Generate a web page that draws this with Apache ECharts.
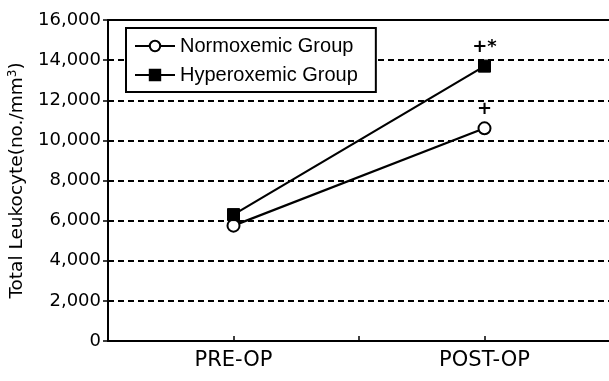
<!DOCTYPE html>
<html>
<head>
<meta charset="utf-8">
<script src="https://cdn.jsdelivr.net/npm/echarts@6/dist/echarts.min.js"></script>
<style>
html,body{margin:0;padding:0;background:#fff;}
#chart{width:609px;height:381px;}
</style>
</head>
<body>
<div id="chart"></div>
<script>
// ---- Data ----
var categories = ['PRE-OP', 'POST-OP'];
var normoxemic = [5750, 10600];
var hyperoxemic = [6300, 13700];
var normoxemicMarks = ['', '+'];
var hyperoxemicMarks = ['', '+*'];
var yTicks = [0, 2000, 4000, 6000, 8000, 10000, 12000, 14000, 16000];
var seriesNames = ['Normoxemic Group', 'Hyperoxemic Group'];

// axis slots: blank slot, category, blank slot, category, blank slot
var axisSlots = ['', categories[0], ' ', categories[1], '  '];

var FONT = 'DejaVu Sans';
var LFONT = 'Liberation Sans';

function buildData(vals, marks) {
  return vals.map(function (v, i) {
    return {
      value: [categories[i], v],
      label: { show: marks[i] !== '', formatter: marks[i] }
    };
  });
}

var chart = echarts.init(document.getElementById('chart'), null, { renderer: 'canvas' });
chart.setOption({
  animation: false,
  backgroundColor: '#fff',
  grid: { left: 108, right: -1, top: 20, bottom: 40, containLabel: false, outerBoundsMode: 'none' },
  legend: {
    orient: 'vertical',
    left: 126,
    top: 28,
    padding: [8, 18, 7, 8],
    itemGap: 9,
    itemWidth: 40,
    itemHeight: 13,
    itemTextGap: 8,
    borderColor: '#000',
    borderWidth: 2,
    backgroundColor: '#fff',
    textStyle: { fontFamily: LFONT, fontSize: 20, color: '#000' },
    data: seriesNames
  },
  xAxis: [{
    type: 'category',
    data: axisSlots,
    boundaryGap: false,
    axisLine: { lineStyle: { color: '#000', width: 2 } },
    axisTick: { show: true, inside: true, length: 5, lineStyle: { color: '#000', width: 1.5 } },
    axisLabel: { fontFamily: FONT, fontSize: 21, color: '#000', margin: 9, interval: 0 },
    splitLine: { show: false }
  }, {
    type: 'category',
    data: axisSlots,
    position: 'top',
    boundaryGap: false,
    axisLine: { show: true, onZero: false, lineStyle: { color: '#000', width: 2 } },
    axisTick: { show: false },
    axisLabel: { show: false },
    splitLine: { show: false }
  }],
  yAxis: {
    type: 'value',
    min: yTicks[0],
    max: yTicks[yTicks.length - 1],
    interval: yTicks[1] - yTicks[0],
    name: '{a|Total Leukocyte(no./mm}{s|3}{a|)}',
    nameLocation: 'middle',
    nameGap: 74,
    nameTextStyle: {
      rich: {
        a: { fontFamily: FONT, fontSize: 18.5, color: '#000', lineHeight: 21 },
        s: { fontFamily: FONT, fontSize: 12, color: '#000', verticalAlign: 'top', lineHeight: 12 }
      }
    },
    axisLine: { show: true, lineStyle: { color: '#000', width: 2 } },
    axisTick: { show: true, length: 5, lineStyle: { color: '#000', width: 1.5 } },
    axisLabel: {
      fontFamily: FONT, fontSize: 18, color: '#000', margin: 7,
      formatter: function (v) { return v.toLocaleString('en-US'); }
    },
    splitLine: { show: true, lineStyle: { color: '#000', width: 1.8, type: [6, 4] } }
  },
  series: [{
    name: seriesNames[0],
    type: 'line',
    data: buildData(normoxemic, normoxemicMarks),
    symbol: 'circle',
    symbolSize: 12,
    lineStyle: { color: '#000', width: 2.2 },
    itemStyle: { color: '#fff', borderColor: '#000', borderWidth: 2 },
    label: { position: 'top', distance: 3, fontFamily: FONT, fontSize: 18, fontWeight: 'bold', color: '#000' },
    z: 3
  }, {
    name: seriesNames[1],
    type: 'line',
    data: buildData(hyperoxemic, hyperoxemicMarks),
    symbol: 'rect',
    symbolSize: 12,
    lineStyle: { color: '#000', width: 2.2 },
    itemStyle: { color: '#000', borderColor: '#000', borderWidth: 1 },
    label: { position: 'top', distance: 3, fontFamily: FONT, fontSize: 18, fontWeight: 'bold', color: '#000' },
    z: 4
  }]
});
</script>
</body>
</html>
